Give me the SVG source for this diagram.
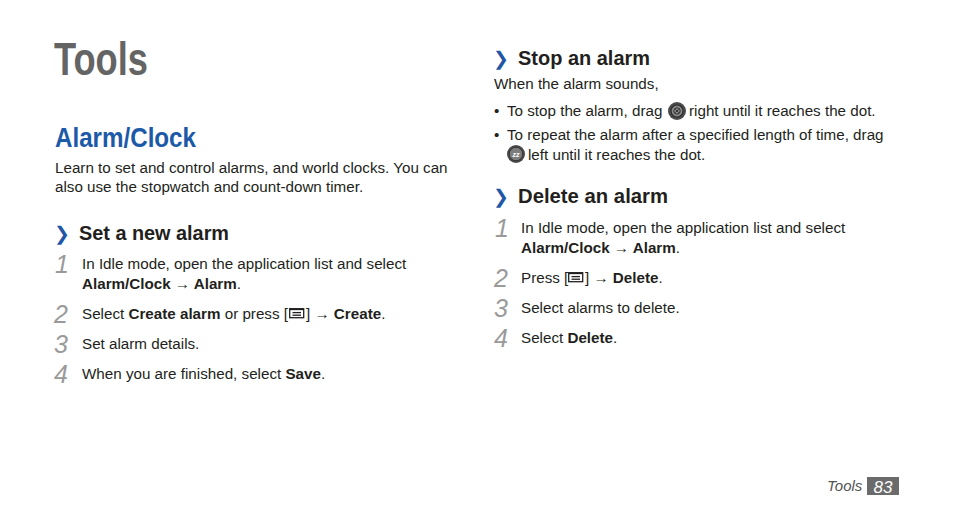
<svg xmlns="http://www.w3.org/2000/svg" width="954" height="518" viewBox="0 0 954 518">
<style>
.b{font-family:"Liberation Sans",Arial,sans-serif;font-size:15.2px;fill:#231f20}
.bd{font-weight:bold}
.h{font-family:"Liberation Sans",Arial,sans-serif;font-size:21px;font-weight:bold;fill:#231f20}
.chev{font-family:"DejaVu Sans",sans-serif;font-size:19px;font-weight:bold;fill:#1f56a5}
.num{font-family:"Liberation Sans",Arial,sans-serif;font-size:25px;font-style:italic;fill:#9a9a9a}
.mk{fill:none;stroke:#231f20;stroke-width:1.3}
</style>
<defs>
<g id="menu">
<rect class="mk" x="0.7" y="0.7" width="14" height="9"/>
<line class="mk" x1="0.7" y1="1.5" x2="14.7" y2="1.5" stroke-width="2"/>
<line class="mk" x1="3.5" y1="4.6" x2="12" y2="4.6"/>
<line class="mk" x1="3.5" y1="7.2" x2="12" y2="7.2"/>
</g>
</defs>
<rect width="954" height="518" fill="#ffffff"/>

<g id="title">
<text x="54" y="75" font-family="Liberation Sans,Arial,sans-serif" font-size="46" font-weight="bold" fill="#646464" textLength="94" lengthAdjust="spacingAndGlyphs">Tools</text>
<text x="55" y="147" font-family="Liberation Sans,Arial,sans-serif" font-size="28" font-weight="bold" fill="#1c5aa8" textLength="141" lengthAdjust="spacingAndGlyphs">Alarm/Clock</text>
<text class="b" x="55" y="173">Learn to set and control alarms, and world clocks. You can</text>
<text class="b" x="55" y="192">also use the stopwatch and count-down timer.</text>
</g>

<g id="set-alarm">
<text class="chev" x="54" y="240">❯</text>
<text class="h" x="79" y="240" textLength="150" lengthAdjust="spacingAndGlyphs">Set a new alarm</text>
<text class="num" x="55" y="273">1</text>
<text class="b" x="82" y="269">In Idle mode, open the application list and select</text>
<text class="b bd" x="82" y="289">Alarm/Clock <tspan font-weight="normal">→</tspan> Alarm<tspan font-weight="normal">.</tspan></text>
<text class="num" x="54" y="323">2</text>
<text class="b" x="82" y="319">Select <tspan class="bd">Create alarm</tspan> or press [</text>
<use href="#menu" x="289" y="308"/>
<text class="b" x="306" y="319">] → <tspan class="bd">Create</tspan>.</text>
<text class="num" x="54" y="353">3</text>
<text class="b" x="82" y="349">Set alarm details.</text>
<text class="num" x="54" y="383">4</text>
<text class="b" x="82" y="379">When you are finished, select <tspan class="bd">Save</tspan>.</text>
</g>

<g id="stop-alarm">
<text class="chev" x="493" y="65">❯</text>
<text class="h" x="518" y="65" textLength="132" lengthAdjust="spacingAndGlyphs">Stop an alarm</text>
<text class="b" x="494" y="89">When the alarm sounds,</text>
<text class="b" x="494" y="116">•</text>
<text class="b" x="507" y="116">To stop the alarm, drag</text>
<g id="icon-stop">
<circle cx="677" cy="111" r="9" fill="#4a4a4a"/>
<circle cx="677" cy="111" r="6" fill="#8a8a8a" stroke="#2e2e2e" stroke-width="1.2"/>
<circle cx="677" cy="111" r="3.2" fill="none" stroke="#2e2e2e" stroke-width="1"/>
<path d="M675.4 109.4l3.2 3.2M678.6 109.4l-3.2 3.2" stroke="#2e2e2e" stroke-width="1"/>
</g>
<text class="b" x="689" y="116">right until it reaches the dot.</text>
<text class="b" x="494" y="140">•</text>
<text class="b" x="507" y="140">To repeat the alarm after a specified length of time, drag</text>
<g id="icon-snooze">
<circle cx="516" cy="154" r="9" fill="#4a4a4a"/>
<circle cx="516" cy="154" r="6.8" fill="#7d7d7d" stroke="#333" stroke-width="1"/>
<text x="516" y="157" text-anchor="middle" font-family="Liberation Sans,Arial,sans-serif" font-size="7" font-weight="bold" font-style="italic" fill="#ffffff">zz</text>
</g>
<text class="b" x="528" y="160">left until it reaches the dot.</text>
</g>

<g id="delete-alarm">
<text class="chev" x="493" y="203">❯</text>
<text class="h" x="518" y="203" textLength="150" lengthAdjust="spacingAndGlyphs">Delete an alarm</text>
<text class="num" x="495" y="237">1</text>
<text class="b" x="521" y="233">In Idle mode, open the application list and select</text>
<text class="b bd" x="521" y="253">Alarm/Clock <tspan font-weight="normal">→</tspan> Alarm<tspan font-weight="normal">.</tspan></text>
<text class="num" x="494" y="287">2</text>
<text class="b" x="521" y="283">Press [</text>
<use href="#menu" x="568" y="272"/>
<text class="b" x="585" y="283">] → <tspan class="bd">Delete</tspan>.</text>
<text class="num" x="494" y="317">3</text>
<text class="b" x="521" y="313">Select alarms to delete.</text>
<text class="num" x="494" y="347">4</text>
<text class="b" x="521" y="343">Select <tspan class="bd">Delete</tspan>.</text>
</g>

<g id="footer">
<text x="827" y="491" font-family="Liberation Sans,Arial,sans-serif" font-size="15" font-style="italic" fill="#555555">Tools</text>
<rect x="867" y="477" width="32" height="18" fill="#6b6b6b"/>
<text x="883" y="493" text-anchor="middle" font-family="Liberation Sans,Arial,sans-serif" font-size="17" font-style="italic" fill="#ffffff">83</text>
</g>
</svg>
